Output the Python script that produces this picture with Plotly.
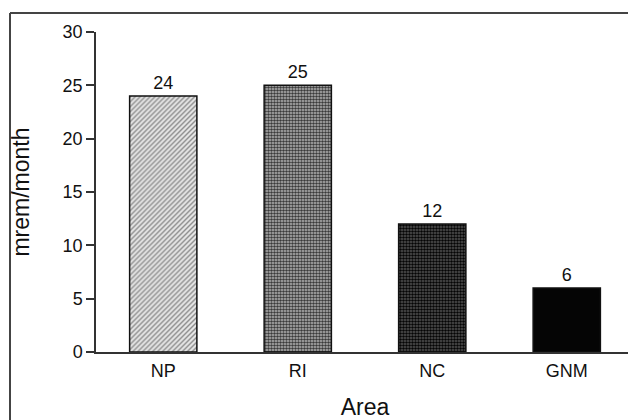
import plotly.graph_objects as go

areas = ["NP", "RI", "NC", "GNM"]
values = [24, 25, 12, 6]
y_ticks = [0, 5, 10, 15, 20, 25, 30]

shapes = ["/", ".", ".", ""]
fg = ["#8c8c8c", "#3a3a3a", "#050505", "#000000"]
bg = ["#e6e6e6", "#b8b8b8", "#555555", "#050505"]
sizes = [3.5, 3, 3, 3]
solid = [0.4, 0.55, 0.55, 0.3]

fig = go.Figure()
for i, (a, v) in enumerate(zip(areas, values)):
    fig.add_trace(go.Bar(
        x=[a], y=[v], width=0.5,
        marker=dict(
            color=bg[i],
            line=dict(color="#111111", width=1.5),
            pattern=dict(shape=shapes[i], fgcolor=fg[i], bgcolor=bg[i], size=sizes[i],
                         solidity=solid[i], fillmode="replace"),
        ),
        text=[str(v)], textposition="outside",
        textfont=dict(size=18, color="#111111", family="Liberation Sans, Arial"),
        cliponaxis=False,
    ))

# page body has an 8px margin; figure is sized so the page fills 636x420
OFF = 8
W, H = 636 - OFF, 420 - OFF
L, T = 96 - OFF, 32 - OFF
pw, ph = 538, 320
R, B = W - L - pw, H - T - ph

def px(x):
    return (x - OFF - L) / pw

def py(y):
    return (T + ph - (y - OFF)) / ph

fig.update_layout(
    width=W, height=H,
    margin=dict(l=L, r=R, t=T, b=B, autoexpand=False),
    paper_bgcolor="white", plot_bgcolor="white",
    font=dict(family="Liberation Sans, Arial", size=18, color="#111111"),
    showlegend=False,
    barmode="overlay",
    xaxis=dict(
        showline=True, linecolor="#333333", linewidth=1.5,
        ticks="", showgrid=False, zeroline=False,
        tickfont=dict(size=18), ticklabelstandoff=2,
        title=dict(text="Area", font=dict(size=23), standoff=20),
        range=[-0.5, 3.5], categoryorder="array", categoryarray=areas,
    ),
    yaxis=dict(
        range=[0, 30], tickvals=y_ticks,
        showline=True, linecolor="#333333", linewidth=1.5,
        ticks="outside", ticklen=8, tickwidth=1.5, tickcolor="#333333",
        showgrid=False, zeroline=False,
        tickfont=dict(size=18), ticklabelstandoff=0,
        title=dict(text="mrem/month", font=dict(size=23), standoff=30),
    ),
    shapes=[
        dict(type="line", xref="paper", yref="paper", x0=px(10), x1=px(10), y0=py(13), y1=py(430),
             line=dict(color="#444444", width=2)),
        dict(type="line", xref="paper", yref="paper", x0=px(10), x1=px(650), y0=py(13), y1=py(13),
             line=dict(color="#444444", width=2)),
    ],
)

fig.write_html("out.html")
